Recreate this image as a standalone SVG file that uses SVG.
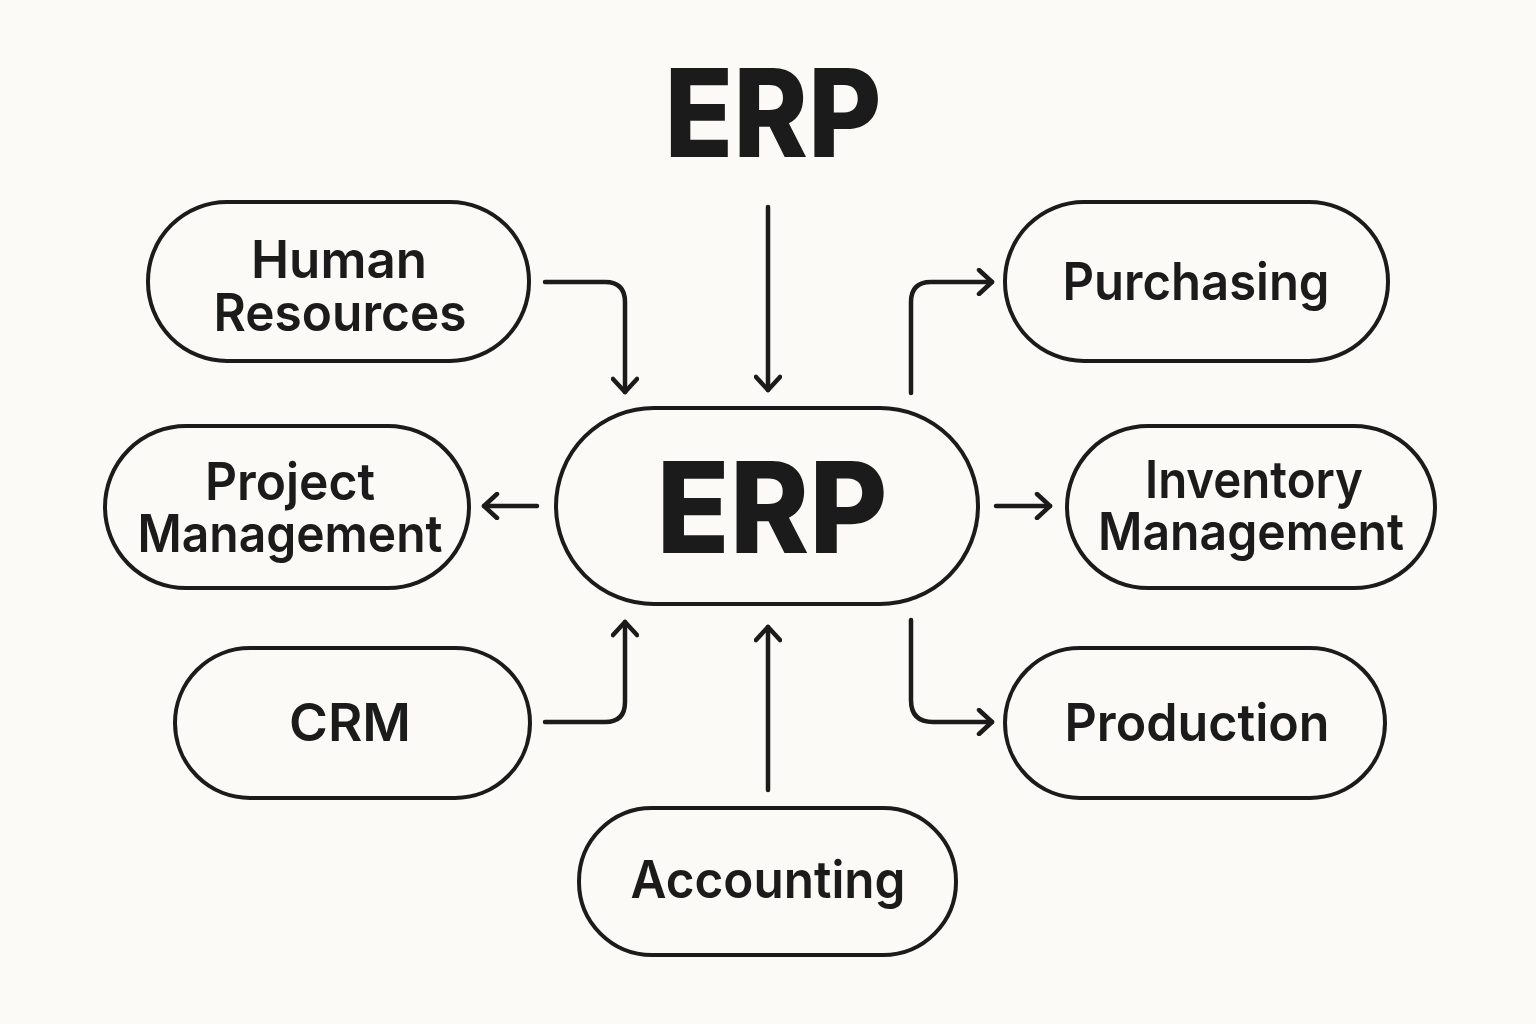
<svg xmlns="http://www.w3.org/2000/svg" width="1536" height="1024" viewBox="0 0 1536 1024">
<defs>
<style>
.node{fill:#fbfaf6;stroke:#1b1b1b;stroke-width:4}
.lbl{font-family:Inter,"Liberation Sans",sans-serif;font-weight:600;font-size:52px;fill:#1b1b1b;text-anchor:middle}
.big{font-family:Inter,"Liberation Sans",sans-serif;font-weight:800;fill:#1b1b1b;text-anchor:middle}
.con{fill:none;stroke:#1b1b1b;stroke-width:4.5;stroke-linecap:round;stroke-linejoin:round;marker-end:url(#ah)}
</style>
<marker id="ah" viewBox="0 0 24 28" refX="18" refY="14" markerWidth="24" markerHeight="28" markerUnits="userSpaceOnUse" orient="auto">
<path d="M5,2 L18,14 L5,26" fill="none" stroke="#1b1b1b" stroke-width="4.5" stroke-linecap="round" stroke-linejoin="round"/>
</marker>
</defs>
<rect width="1536" height="1024" fill="#fbfaf6"/>
<g id="title"><text class="big" x="773" y="157" font-size="122" textLength="217" lengthAdjust="spacingAndGlyphs">ERP</text></g>
<g id="connectors">
<path class="con" d="M545,282 H605 Q625,282 625,302 V392"/>
<path class="con" d="M768,207 V390"/>
<path class="con" d="M911,393 V302 Q911,282 931,282 H992"/>
<path class="con" d="M537,506 H484"/>
<path class="con" d="M996,506 H1050"/>
<path class="con" d="M545,722 H605 Q625,722 625,702 V622"/>
<path class="con" d="M768,790 V627"/>
<path class="con" d="M911,620 V700 Q911,722 933,722 H992"/>
</g>
<g id="erp"><rect class="node" x="556" y="408" width="422" height="196" rx="98"/>
<text class="big" x="772" y="553" font-size="126" textLength="231" lengthAdjust="spacingAndGlyphs">ERP</text></g>
<g id="hr"><rect class="node" x="148" y="202" width="381" height="159" rx="79"/>
<text class="lbl" x="339" y="278" textLength="176" lengthAdjust="spacingAndGlyphs">Human</text>
<text class="lbl" x="340" y="331" textLength="253" lengthAdjust="spacingAndGlyphs">Resources</text></g>
<g id="purchasing"><rect class="node" x="1005" y="202" width="383" height="159" rx="79"/>
<text class="lbl" x="1196" y="300" textLength="267" lengthAdjust="spacingAndGlyphs">Purchasing</text></g>
<g id="project"><rect class="node" x="105" y="426" width="364" height="162" rx="81"/>
<text class="lbl" x="290" y="500" textLength="170" lengthAdjust="spacingAndGlyphs">Project</text>
<text class="lbl" x="290" y="552" textLength="305" lengthAdjust="spacingAndGlyphs">Management</text></g>
<g id="inventory"><rect class="node" x="1067" y="426" width="368" height="162" rx="81"/>
<text class="lbl" x="1254" y="498" textLength="218" lengthAdjust="spacingAndGlyphs">Inventory</text>
<text class="lbl" x="1251" y="550" textLength="306" lengthAdjust="spacingAndGlyphs">Management</text></g>
<g id="crm"><rect class="node" x="175" y="648" width="355" height="150" rx="75"/>
<text class="lbl" x="350" y="741" textLength="122" lengthAdjust="spacingAndGlyphs">CRM</text></g>
<g id="production"><rect class="node" x="1005" y="648" width="380" height="150" rx="75"/>
<text class="lbl" x="1197" y="741" textLength="265" lengthAdjust="spacingAndGlyphs">Production</text></g>
<g id="accounting"><rect class="node" x="579" y="808" width="377" height="147" rx="73"/>
<text class="lbl" x="768" y="898" textLength="275" lengthAdjust="spacingAndGlyphs">Accounting</text></g>
</svg>
